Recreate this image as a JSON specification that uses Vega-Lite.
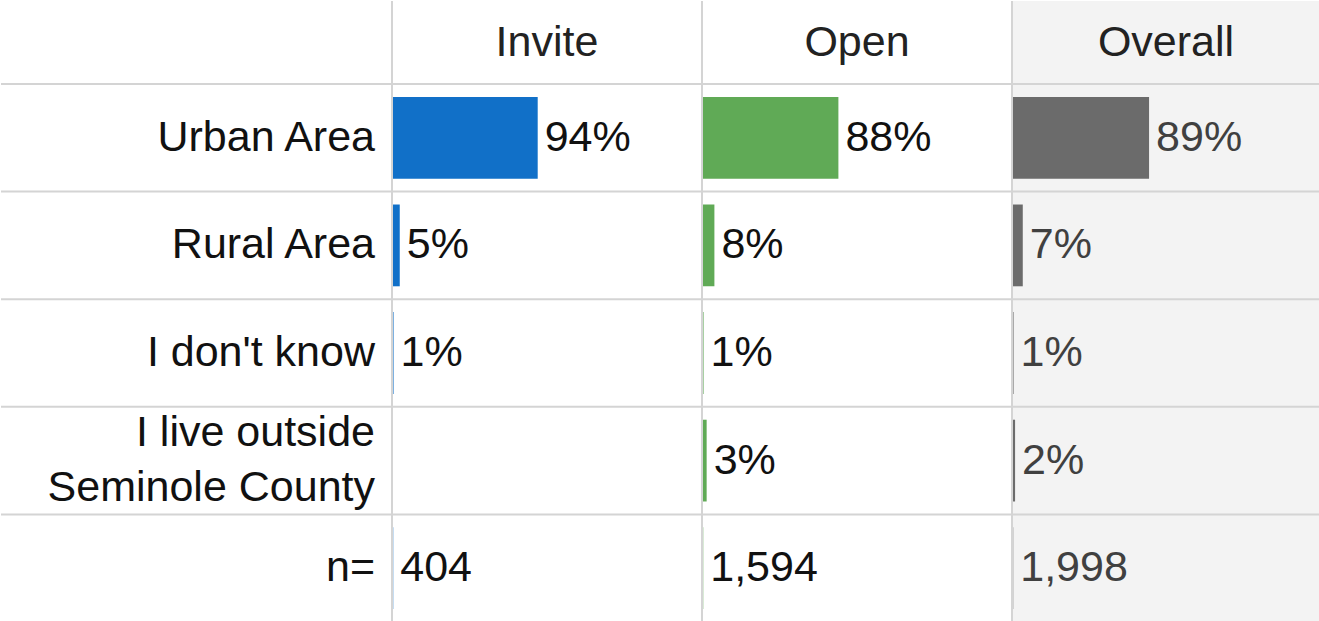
{
  "$schema": "https://vega.github.io/schema/vega-lite/v6.json",
  "padding": 0,
  "background": "white",
  "bounds": "flush",
  "spacing": 0,
  "columns": 4,
  "config": {"view": {"stroke": null}, "concat": {"spacing": 0}, "font": "Liberation Sans", "text": {"font": "Liberation Sans"}},
  "datasets": {
    "rows": [
      {"row": "Urban Area", "display": "Urban Area"},
      {"row": "Rural Area", "display": "Rural Area"},
      {"row": "I don't know", "display": "I don't know"},
      {"row": "I live outside Seminole County", "display": "I live outside\nSeminole County"},
      {"row": "n=", "display": "n="}
    ],
    "last": [{"row": "n="}],
    "cells": [
      {"col": "Invite", "row": "Urban Area", "pct": 94, "label": "94%"},
      {"col": "Invite", "row": "Rural Area", "pct": 5, "label": "5%"},
      {"col": "Invite", "row": "I don't know", "pct": 1, "label": "1%"},
      {"col": "Invite", "row": "n=", "pct": 0.8, "label": "404"},
      {"col": "Open", "row": "Urban Area", "pct": 88, "label": "88%"},
      {"col": "Open", "row": "Rural Area", "pct": 8, "label": "8%"},
      {"col": "Open", "row": "I don't know", "pct": 1, "label": "1%"},
      {"col": "Open", "row": "I live outside Seminole County", "pct": 3, "label": "3%"},
      {"col": "Open", "row": "n=", "pct": 0.8, "label": "1,594"},
      {"col": "Overall", "row": "Urban Area", "pct": 89, "label": "89%"},
      {"col": "Overall", "row": "Rural Area", "pct": 7, "label": "7%"},
      {"col": "Overall", "row": "I don't know", "pct": 1, "label": "1%"},
      {"col": "Overall", "row": "I live outside Seminole County", "pct": 2, "label": "2%"},
      {"col": "Overall", "row": "n=", "pct": 0.8, "label": "1,998"}
    ]
  },
  "concat": [
    {"width": 391, "height": 83, "data": {"values": [{"t": ""}]}, "mark": {"type": "text"}, "encoding": {"text": {"field": "t"}}},
    {"width": 310, "height": 83, "data": {"values": [{"t": "Invite"}]},
     "layer": [
       {"mark": {"type": "text", "fontSize": 43, "font": "Liberation Sans", "align": "center", "baseline": "middle", "color": "#222222"},
        "encoding": {"text": {"field": "t"},
          "x": {"datum": 0.5, "type": "quantitative", "scale": {"domain": [0, 1]}, "axis": null},
          "y": {"datum": 0.5, "type": "quantitative", "scale": {"domain": [0, 1]}, "axis": null}}},
       {"mark": {"type": "rule", "color": "#d4d4d4", "strokeWidth": 2}, "encoding": {"x": {"datum": 0, "type": "quantitative"}}}
     ]},
    {"width": 310, "height": 83, "data": {"values": [{"t": "Open"}]},
     "layer": [
       {"mark": {"type": "text", "fontSize": 43, "font": "Liberation Sans", "align": "center", "baseline": "middle", "color": "#222222"},
        "encoding": {"text": {"field": "t"},
          "x": {"datum": 0.5, "type": "quantitative", "scale": {"domain": [0, 1]}, "axis": null},
          "y": {"datum": 0.5, "type": "quantitative", "scale": {"domain": [0, 1]}, "axis": null}}},
       {"mark": {"type": "rule", "color": "#d4d4d4", "strokeWidth": 2}, "encoding": {"x": {"datum": 0, "type": "quantitative"}}}
     ]},
    {"width": 308, "height": 83, "data": {"values": [{"t": "Overall"}]},
     "view": {"fill": "#f3f3f3"},
     "layer": [
       {"mark": {"type": "text", "fontSize": 43, "font": "Liberation Sans", "align": "center", "baseline": "middle", "color": "#222222"},
        "encoding": {"text": {"field": "t"},
          "x": {"datum": 0.5, "type": "quantitative", "scale": {"domain": [0, 1]}, "axis": null},
          "y": {"datum": 0.5, "type": "quantitative", "scale": {"domain": [0, 1]}, "axis": null}}},
       {"mark": {"type": "rule", "color": "#d4d4d4", "strokeWidth": 2}, "encoding": {"x": {"datum": 0, "type": "quantitative"}}}
     ]},
    {
      "width": 391, "height": 538,
      "layer": [
        {"data": {"name": "rows"}, "mark": {"type": "rule", "color": "#d4d4d4", "strokeWidth": 2},
         "encoding": {"y": {"field": "row", "type": "nominal", "bandPosition": 0, "axis": null,
           "scale": {"domain": ["Urban Area", "Rural Area", "I don't know", "I live outside Seminole County", "n="], "paddingInner": 0, "paddingOuter": 0}}}},
        {"data": {"name": "last"}, "mark": {"type": "rule", "color": "#e4e4e4", "strokeWidth": 2},
         "encoding": {"y": {"field": "row", "type": "nominal", "bandPosition": 1, "axis": null}}},
        {"data": {"name": "rows"}, "transform": [{"filter": "datum.row != 'I live outside Seminole County'"}],
         "mark": {"type": "text", "fontSize": 43, "font": "Liberation Sans", "align": "right", "baseline": "middle", "dx": -17, "color": "#111111"},
         "encoding": {"y": {"field": "row", "type": "nominal", "axis": null},
           "x": {"datum": 1, "type": "quantitative", "scale": {"domain": [0, 1]}, "axis": null},
           "text": {"field": "display"}}},
        {"data": {"name": "rows"}, "transform": [{"filter": "datum.row == 'I live outside Seminole County'"}],
         "mark": {"type": "text", "fontSize": 43, "font": "Liberation Sans", "align": "right", "baseline": "middle", "dx": -17, "dy": -28, "lineBreak": "\n", "lineHeight": 55, "color": "#111111"},
         "encoding": {"y": {"field": "row", "type": "nominal", "axis": null},
           "x": {"datum": 1, "type": "quantitative"},
           "text": {"field": "display"}}}
      ]
    },
    {
      "width": 310, "height": 538,
      "layer": [
        {"data": {"name": "rows"}, "mark": {"type": "rule", "color": "#d4d4d4", "strokeWidth": 2},
         "encoding": {"y": {"field": "row", "type": "nominal", "bandPosition": 0, "axis": null,
           "scale": {"domain": ["Urban Area", "Rural Area", "I don't know", "I live outside Seminole County", "n="], "paddingInner": 0, "paddingOuter": 0}}}},
        {"data": {"name": "last"}, "mark": {"type": "rule", "color": "#e4e4e4", "strokeWidth": 2},
         "encoding": {"y": {"field": "row", "type": "nominal", "bandPosition": 1, "axis": null}}},
        {"data": {"name": "cells"}, "transform": [{"filter": "datum.col == 'Invite'"}],
         "mark": {"type": "bar", "height": {"band": 0.76}, "color": "#1170c8"},
         "encoding": {"y": {"field": "row", "type": "nominal", "axis": null},
           "x": {"field": "pct", "type": "quantitative", "scale": {"domain": [0, 196]}, "axis": null}}},
        {"data": {"name": "cells"}, "transform": [{"filter": "datum.col == 'Invite'"}],
         "mark": {"type": "text", "fontSize": 43, "font": "Liberation Sans", "align": "left", "baseline": "middle", "dx": 7, "color": "#111111"},
         "encoding": {"y": {"field": "row", "type": "nominal", "axis": null},
           "x": {"field": "pct", "type": "quantitative", "axis": null},
           "text": {"field": "label"}}},
        {"data": {"values": [{}]}, "mark": {"type": "rule", "color": "#d4d4d4", "strokeWidth": 2},
         "encoding": {"x": {"datum": 0, "type": "quantitative"}}}
      ]
    },
    {
      "width": 310, "height": 538,
      "layer": [
        {"data": {"name": "rows"}, "mark": {"type": "rule", "color": "#d4d4d4", "strokeWidth": 2},
         "encoding": {"y": {"field": "row", "type": "nominal", "bandPosition": 0, "axis": null,
           "scale": {"domain": ["Urban Area", "Rural Area", "I don't know", "I live outside Seminole County", "n="], "paddingInner": 0, "paddingOuter": 0}}}},
        {"data": {"name": "last"}, "mark": {"type": "rule", "color": "#e4e4e4", "strokeWidth": 2},
         "encoding": {"y": {"field": "row", "type": "nominal", "bandPosition": 1, "axis": null}}},
        {"data": {"name": "cells"}, "transform": [{"filter": "datum.col == 'Open'"}],
         "mark": {"type": "bar", "height": {"band": 0.76}, "color": "#60aa56"},
         "encoding": {"y": {"field": "row", "type": "nominal", "axis": null},
           "x": {"field": "pct", "type": "quantitative", "scale": {"domain": [0, 196]}, "axis": null}}},
        {"data": {"name": "cells"}, "transform": [{"filter": "datum.col == 'Open'"}],
         "mark": {"type": "text", "fontSize": 43, "font": "Liberation Sans", "align": "left", "baseline": "middle", "dx": 7, "color": "#111111"},
         "encoding": {"y": {"field": "row", "type": "nominal", "axis": null},
           "x": {"field": "pct", "type": "quantitative", "axis": null},
           "text": {"field": "label"}}},
        {"data": {"values": [{}]}, "mark": {"type": "rule", "color": "#d4d4d4", "strokeWidth": 2},
         "encoding": {"x": {"datum": 0, "type": "quantitative"}}}
      ]
    },
    {
      "width": 308, "height": 538,
      "view": {"fill": "#f3f3f3"},
      "layer": [
        {"data": {"name": "rows"}, "mark": {"type": "rule", "color": "#d4d4d4", "strokeWidth": 2},
         "encoding": {"y": {"field": "row", "type": "nominal", "bandPosition": 0, "axis": null,
           "scale": {"domain": ["Urban Area", "Rural Area", "I don't know", "I live outside Seminole County", "n="], "paddingInner": 0, "paddingOuter": 0}}}},
        {"data": {"name": "last"}, "mark": {"type": "rule", "color": "#e4e4e4", "strokeWidth": 2},
         "encoding": {"y": {"field": "row", "type": "nominal", "bandPosition": 1, "axis": null}}},
        {"data": {"name": "cells"}, "transform": [{"filter": "datum.col == 'Overall'"}],
         "mark": {"type": "bar", "height": {"band": 0.76}, "color": "#6b6b6b"},
         "encoding": {"y": {"field": "row", "type": "nominal", "axis": null},
           "x": {"field": "pct", "type": "quantitative", "scale": {"domain": [0, 194.7]}, "axis": null}}},
        {"data": {"name": "cells"}, "transform": [{"filter": "datum.col == 'Overall'"}],
         "mark": {"type": "text", "fontSize": 43, "font": "Liberation Sans", "align": "left", "baseline": "middle", "dx": 7, "color": "#404040"},
         "encoding": {"y": {"field": "row", "type": "nominal", "axis": null},
           "x": {"field": "pct", "type": "quantitative", "axis": null},
           "text": {"field": "label"}}},
        {"data": {"values": [{}]}, "mark": {"type": "rule", "color": "#d4d4d4", "strokeWidth": 2},
         "encoding": {"x": {"datum": 0, "type": "quantitative"}}}
      ]
    }
  ]
}
